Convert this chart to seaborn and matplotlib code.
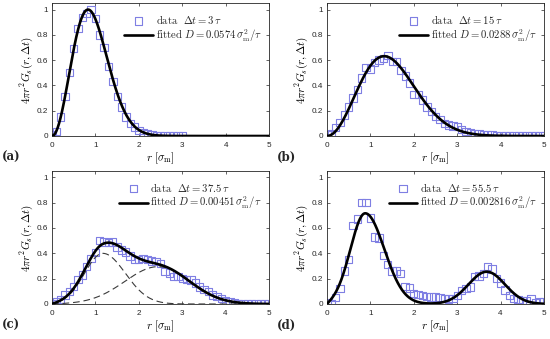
import numpy as np
import pandas as pd
import matplotlib
matplotlib.use("Agg")
import matplotlib.pyplot as plt
import seaborn as sns

# ---------------- data ----------------
r_a = np.round(np.arange(0, 3.01, 0.1), 1)
r_bcd = np.round(np.arange(0, 5.01, 0.1), 1)

a_vals = [0.01, 0.035, 0.15, 0.31, 0.50, 0.69, 0.85, 0.94, 0.97, 1.0, 0.93,
          0.80, 0.70, 0.55, 0.43, 0.31, 0.23, 0.15, 0.10, 0.07, 0.045,
          0.03, 0.02, 0.01, 0.005, 0.005, 0.004, 0.003, 0.003, 0.002, 0.002]
b_vals = [0.01, 0.02, 0.065, 0.105, 0.165, 0.23, 0.30, 0.37, 0.46, 0.54, 0.53,
          0.58, 0.60, 0.615, 0.635, 0.59, 0.59, 0.52, 0.475, 0.42, 0.33,
          0.33, 0.285, 0.23, 0.195, 0.155, 0.13, 0.10, 0.088, 0.08, 0.075,
          0.053, 0.035, 0.025, 0.02, 0.015, 0.012, 0.01, 0.008, 0.006, 0.005,
          0.005, 0.004, 0.004, 0.003, 0.003, 0.003, 0.002, 0.002, 0.002, 0.002]
c_vals = [0.005, 0.015, 0.035, 0.07, 0.10, 0.14, 0.195, 0.23, 0.295, 0.36, 0.405,
          0.50, 0.49, 0.485, 0.49, 0.45, 0.425, 0.41, 0.38, 0.35, 0.35,
          0.36, 0.35, 0.34, 0.335, 0.32, 0.255, 0.245, 0.215, 0.215, 0.20,
          0.195, 0.19, 0.165, 0.135, 0.115, 0.10, 0.07, 0.06, 0.045, 0.03,
          0.02, 0.01, 0.005, 0.005, 0.004, 0.004, 0.003, 0.003, 0.003, 0.003]
d_vals = [0.01, 0.0, 0.05, 0.12, 0.26, 0.35, 0.62, 0.67, 0.80, 0.80, 0.68,
          0.53, 0.52, 0.385, 0.31, 0.26, 0.26, 0.24, 0.14, 0.125, 0.085,
          0.075, 0.065, 0.057, 0.055, 0.055, 0.05, 0.045, 0.04, 0.045, 0.065,
          0.105, 0.12, 0.135, 0.215, 0.22, 0.24, 0.295, 0.275, 0.20, 0.165,
          0.11, 0.065, 0.045, 0.035, 0.03, 0.025, 0.045, 0.01, 0.02, 0.02]

delta_t = [3, 15, 37.5, 55.5]
D_fit = [0.0574, 0.0288, 0.00451, 0.002816]
D_text = ["0.0574", "0.0288", "0.00451", "0.002816"]
dt_text = ["3", "15", "37.5", "55.5"]
panel_tags = ["(a)", "(b)", "(c)", "(d)"]

# two-population fit components (c) and (d):
# amplitude, centre, left width, right width
c_comp1 = [0.40, 1.17, 0.42, 0.52]
c_comp2 = [0.295, 2.45, 0.77, 0.72]
d_comp1 = [0.716, 0.88, 0.34, 0.44]
d_comp2 = [0.255, 3.68, 0.42, 0.42]

x_ticks = [0, 1, 2, 3, 4, 5]
y_ticks = [0, 0.2, 0.4, 0.6, 0.8, 1.0]
y_tick_labels = ["0", "0.2", "0.4", "0.6", "0.8", "1"]

# ---------------- style ----------------
sns.set_theme(style="white")
plt.rcParams["font.family"] = ["Liberation Sans", "DejaVu Sans"]
plt.rcParams["mathtext.fontset"] = "cm"

W, H = 550, 339
boxes = [(52.0, 3.3, 269.3, 136), (327.0, 3.3, 544.3, 136),
         (52.0, 171, 269.0, 304), (327.0, 171, 544.0, 304)]
tag_pos = [(2, 157), (277, 157), (2, 325), (277, 325)]

mcol = "#7f7fe3"
axcol = "#262626"

r_fine = np.linspace(0, 5, 501)


def van_hove(r, D, t):
    a = 4 * D * t
    return 4 * np.pi * r ** 2 * (np.pi * a) ** -1.5 * np.exp(-r ** 2 / a)


def component(r, p):
    A, c, sl, sr = p
    left = np.exp(-(r - c) ** 2 / (2 * sl ** 2)) - np.exp(-(r + c) ** 2 / (2 * sl ** 2))
    right = np.exp(-(r - c) ** 2 / (2 * sr ** 2))
    return A * np.where(r < c, left, right)


fig = plt.figure(figsize=(W / 100, H / 100), dpi=100)

datasets = [(r_a, a_vals), (r_bcd, b_vals), (r_bcd, c_vals), (r_bcd, d_vals)]
fits = [van_hove(r_fine, D_fit[0], delta_t[0]),
        van_hove(r_fine, D_fit[1], delta_t[1]),
        component(r_fine, c_comp1) + component(r_fine, c_comp2),
        component(r_fine, d_comp1) + component(r_fine, d_comp2)]

for i, (l, t, rgt, b) in enumerate(boxes):
    ax = fig.add_axes([l / W, 1 - b / H, (rgt - l) / W, (b - t) / H])
    rr, vv = datasets[i]
    df = pd.DataFrame({"r": rr, "g": vv})
    sns.scatterplot(data=df, x="r", y="g", ax=ax, marker="s", s=28,
                    facecolor="none", edgecolor=mcol, linewidth=0.8,
                    label=r"$\mathrm{data}\ \ \Delta t = %s\,\tau$" % dt_text[i],
                    zorder=2)
    if i == 2:
        for comp in (c_comp1, c_comp2):
            sns.lineplot(x=r_fine, y=component(r_fine, comp), ax=ax,
                         color="#3a3a3a", lw=0.8,
                         linestyle=(0, (6, 3.5)), zorder=3)
    sns.lineplot(x=r_fine, y=fits[i], ax=ax, color="black", lw=1.9,
                 label=r"$\mathrm{fitted}\ D = %s\,\sigma_\mathrm{m}^2/\tau$" % D_text[i],
                 zorder=4)
    ax.set_xlim(0, 5)
    ax.set_ylim(0, 1.05)
    ax.set_xticks(x_ticks)
    ax.set_xticklabels([str(x) for x in x_ticks])
    ax.set_yticks(y_ticks)
    ax.set_yticklabels(y_tick_labels)
    ax.tick_params(direction="in", length=2.5, width=0.5, colors=axcol,
                   labelsize=5.9, top=True, right=True,
                   bottom=True, left=True)
    ax.tick_params(axis="x", pad=4)
    ax.tick_params(axis="y", pad=3)
    for sp in ax.spines.values():
        sp.set_color(axcol)
        sp.set_linewidth(0.6)
    ax.set_xlabel(r"$r\ [\sigma_\mathrm{m}]$", fontsize=8, color="black", labelpad=1.5)
    ax.set_ylabel(r"$4\pi r^2 G_s(r,\Delta t)$", fontsize=8, color="black", labelpad=1)
    w_px = rgt - l
    h_px = b - t
    ax.legend(loc="upper right", frameon=False, fontsize=7.7,
              bbox_to_anchor=((262 - l) / w_px if i % 2 == 0 else (537 - l) / w_px,
                              1 - 9.5 / h_px),
              borderaxespad=0, borderpad=0,
              handlelength=2.7, handletextpad=0.25,
              labelspacing=0.12, scatterpoints=1)
    fig.text(tag_pos[i][0] / W, 1 - tag_pos[i][1] / H, panel_tags[i],
             fontsize=8.5, fontweight="bold", family="DejaVu Serif",
             va="center", ha="left")

fig.savefig("out.png", dpi=100)
